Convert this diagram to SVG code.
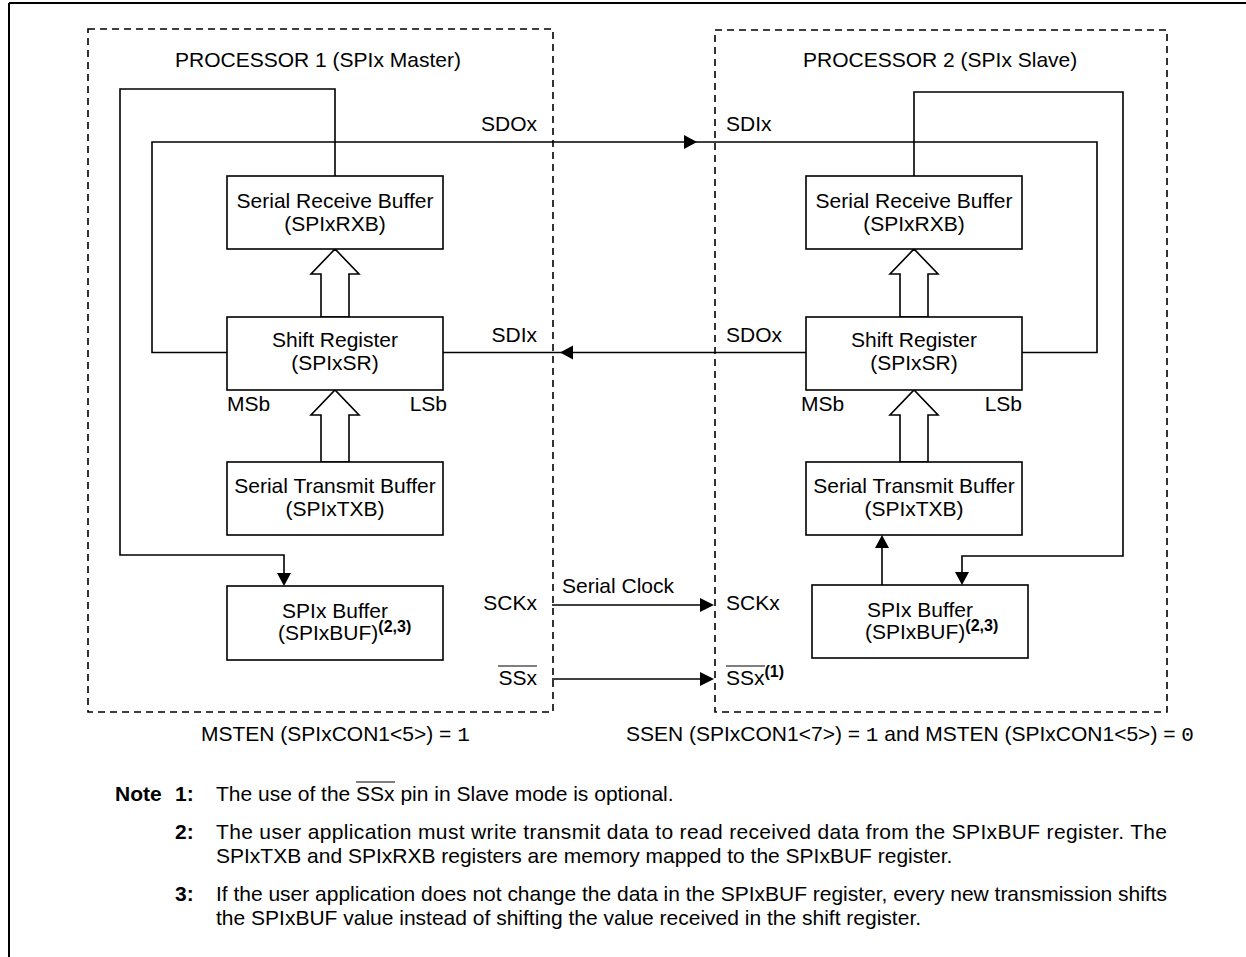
<svg xmlns="http://www.w3.org/2000/svg" width="1246" height="957" viewBox="0 0 1246 957">
<style>
  .t{font-family:"Liberation Sans",Arial,Helvetica,sans-serif;font-size:21px;fill:#000}
  .c{text-anchor:middle}
  .e{text-anchor:end}
  .b{font-weight:bold}
  .sup{font-family:"Liberation Sans",Arial,Helvetica,sans-serif;font-size:16px;font-weight:bold;fill:#000}
  .mono{font-family:"Liberation Mono","Courier New",monospace}
  .box{fill:#fff;stroke:#000;stroke-width:1.6}
  .ln{fill:none;stroke:#000;stroke-width:1.6}
  .dash{fill:none;stroke:#000;stroke-width:1.6;stroke-dasharray:7 5}
  .hollow{fill:#fff;stroke:#000;stroke-width:1.6;stroke-linejoin:miter}
  .ah{fill:#000;stroke:none}
  .ov{stroke:#000;stroke-width:1.2}
</style>

<!-- outer frame (top and left edges) -->
<g id="frame">
  <line x1="9" y1="3" x2="1246" y2="3" stroke="#000" stroke-width="2"/>
  <line x1="9" y1="3" x2="9" y2="957" stroke="#000" stroke-width="2"/>
</g>

<!-- processor groups -->
<g id="processor1">
  <rect class="dash" x="88" y="29" width="465" height="683"/>
  <text class="t" x="175" y="67">PROCESSOR 1 (SPIx Master)</text>
</g>
<g id="processor2">
  <rect class="dash" x="715" y="30" width="452" height="682"/>
  <text class="t" x="803" y="67">PROCESSOR 2 (SPIx Slave)</text>
</g>

<!-- connectors -->
<g id="connectors">
  <!-- master outer loop: RXB -> SPIxBUF -->
  <path class="ln" d="M335,176 V89 H120 V555 H284 V574"/>
  <polygon class="ah" points="277,573 291,573 284,586"/>
  <!-- SDO master -> SDI slave loop -->
  <path class="ln" d="M227,352.5 H152 V142 H1097 V352.5 H1022"/>
  <polygon class="ah" points="684,135 684,149 697,142"/>
  <!-- SDO slave -> SDI master -->
  <path class="ln" d="M806,352.5 H443"/>
  <polygon class="ah" points="573,345.5 573,359.5 560,352.5"/>
  <!-- serial clock -->
  <path class="ln" d="M552,605 H702"/>
  <polygon class="ah" points="700,598 700,612 714,605"/>
  <!-- SS -->
  <path class="ln" d="M552,679 H702"/>
  <polygon class="ah" points="700,672 700,686 714,679"/>
  <!-- slave outer loop: RXB -> SPIxBUF -->
  <path class="ln" d="M914,176 V92 H1123 V556 H962 V573"/>
  <polygon class="ah" points="955,572 969,572 962,585"/>
  <!-- slave SPIxBUF -> TXB -->
  <path class="ln" d="M882,585 V547"/>
  <polygon class="ah" points="875,548 889,548 882,535"/>
  <!-- hollow arrows master -->
  <polygon class="hollow" points="321,317 321,274 311,274 335,249 359,274 349,274 349,317"/>
  <polygon class="hollow" points="321,462 321,415 311,415 335,390 359,415 349,415 349,462"/>
  <!-- hollow arrows slave -->
  <polygon class="hollow" points="900,317 900,274 890,274 914,249 938,274 928,274 928,317"/>
  <polygon class="hollow" points="900,462 900,415 890,415 914,390 938,415 928,415 928,462"/>
</g>

<!-- master nodes -->
<g id="m-rxb">
  <rect class="box" x="227" y="176" width="216" height="73"/>
  <text class="t c" x="335" y="208">Serial Receive Buffer</text>
  <text class="t c" x="335" y="231">(SPIxRXB)</text>
</g>
<g id="m-sr">
  <rect class="box" x="227" y="317" width="216" height="73"/>
  <text class="t c" x="335" y="347">Shift Register</text>
  <text class="t c" x="335" y="370">(SPIxSR)</text>
</g>
<g id="m-txb">
  <rect class="box" x="227" y="462" width="216" height="73"/>
  <text class="t c" x="335" y="493">Serial Transmit Buffer</text>
  <text class="t c" x="335" y="516">(SPIxTXB)</text>
</g>
<g id="m-buf">
  <rect class="box" x="227" y="586" width="216" height="74"/>
  <text class="t c" x="335" y="618">SPIx Buffer</text>
  <text class="t" x="278" y="640">(SPIxBUF)<tspan class="sup" dy="-8">(2,3)</tspan></text>
</g>

<!-- slave nodes -->
<g id="s-rxb">
  <rect class="box" x="806" y="176" width="216" height="73"/>
  <text class="t c" x="914" y="208">Serial Receive Buffer</text>
  <text class="t c" x="914" y="231">(SPIxRXB)</text>
</g>
<g id="s-sr">
  <rect class="box" x="806" y="317" width="216" height="73"/>
  <text class="t c" x="914" y="347">Shift Register</text>
  <text class="t c" x="914" y="370">(SPIxSR)</text>
</g>
<g id="s-txb">
  <rect class="box" x="806" y="462" width="216" height="73"/>
  <text class="t c" x="914" y="493">Serial Transmit Buffer</text>
  <text class="t c" x="914" y="516">(SPIxTXB)</text>
</g>
<g id="s-buf">
  <rect class="box" x="812" y="585" width="216" height="73"/>
  <text class="t c" x="920" y="617">SPIx Buffer</text>
  <text class="t" x="865" y="639">(SPIxBUF)<tspan class="sup" dy="-8">(2,3)</tspan></text>
</g>

<!-- pin labels -->
<g id="labels">
  <text class="t e" x="537" y="131">SDOx</text>
  <text class="t" x="726" y="131">SDIx</text>
  <text class="t e" x="537" y="342">SDIx</text>
  <text class="t" x="726" y="342">SDOx</text>
  <text class="t" x="227" y="411">MSb</text>
  <text class="t e" x="447" y="411">LSb</text>
  <text class="t" x="801" y="411">MSb</text>
  <text class="t e" x="1022" y="411">LSb</text>
  <text class="t e" x="537" y="610">SCKx</text>
  <text class="t" x="562" y="593">Serial Clock</text>
  <text class="t" x="726" y="610">SCKx</text>
  <text class="t e" x="537" y="685">SSx</text>
  <line class="ov" x1="498" y1="666" x2="537" y2="666"/>
  <text class="t" x="726" y="685">SSx<tspan class="sup" dy="-8">(1)</tspan></text>
  <line class="ov" x1="726" y1="666" x2="765" y2="666"/>
  <text class="t" x="201" y="741">MSTEN (SPIxCON1&lt;5&gt;) = <tspan class="mono">1</tspan></text>
  <text class="t" x="626" y="741">SSEN (SPIxCON1&lt;7&gt;) = <tspan class="mono">1</tspan> and MSTEN (SPIxCON1&lt;5&gt;) = <tspan class="mono">0</tspan></text>
</g>

<!-- notes -->
<g id="notes">
  <text class="t b" x="115" y="801">Note</text>
  <text class="t b" x="175" y="801">1:</text>
  <text class="t" x="216" y="801">The use of the SSx pin in Slave mode is optional.</text>
  <line class="ov" x1="356" y1="782" x2="395" y2="782"/>
  <text class="t b" x="175" y="839">2:</text>
  <text class="t" x="216" y="839" textLength="951" lengthAdjust="spacing">The user application must write transmit data to read received data from the SPIxBUF register. The</text>
  <text class="t" x="216" y="863">SPIxTXB and SPIxRXB registers are memory mapped to the SPIxBUF register.</text>
  <text class="t b" x="175" y="901">3:</text>
  <text class="t" x="216" y="901" textLength="951" lengthAdjust="spacing">If the user application does not change the data in the SPIxBUF register, every new transmission shifts</text>
  <text class="t" x="216" y="925">the SPIxBUF value instead of shifting the value received in the shift register.</text>
</g>
</svg>
